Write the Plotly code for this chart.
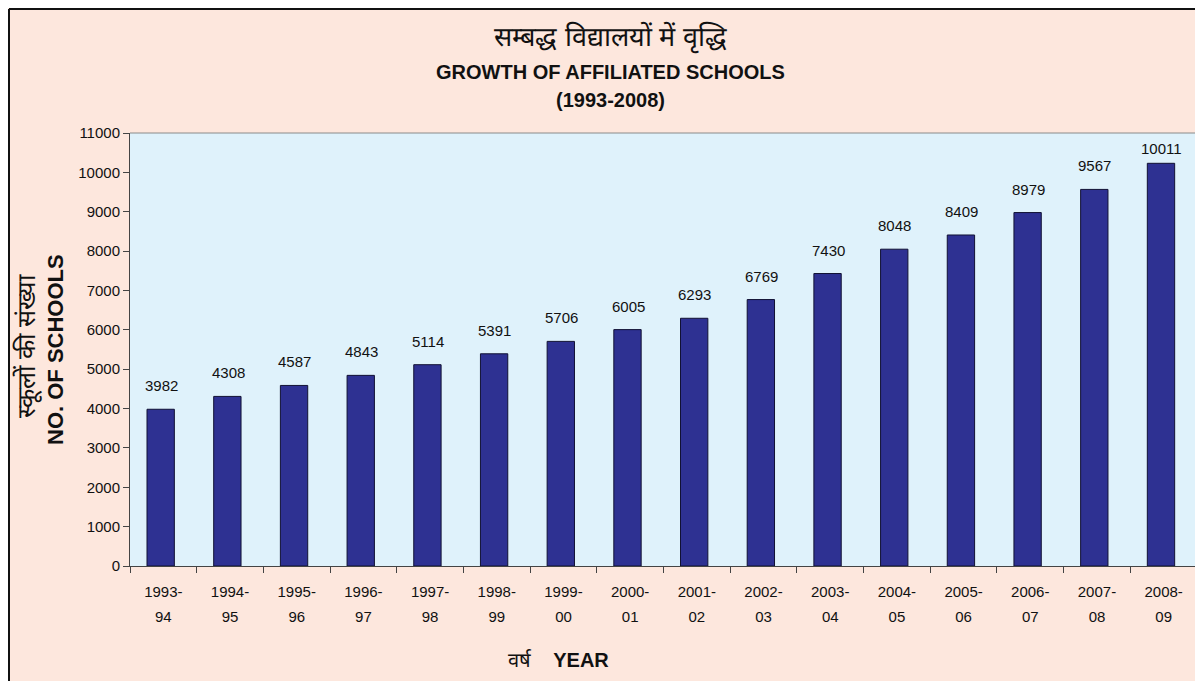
import plotly.graph_objects as go

years = ["1993-94", "1994-95", "1995-96", "1996-97", "1997-98", "1998-99",
         "1999-00", "2000-01", "2001-02", "2002-03", "2003-04", "2004-05",
         "2005-06", "2006-07", "2007-08", "2008-09"]
# bar heights as drawn (the last bar is drawn taller than its label says)
bar_values = [3982, 4308, 4587, 4843, 5114, 5391, 5706, 6005, 6293, 6769,
              7430, 8048, 8409, 8979, 9567, 10230]
label_values = [3982, 4308, 4587, 4843, 5114, 5391, 5706, 6005, 6293, 6769,
                7430, 8048, 8409, 8979, 9567, 10011]

FONT = "Liberation Sans, Arial, sans-serif"
BAR = "#2e3192"

W, H = 1195, 673
L, R, T, B = 122, 6, 125, 115
PW, PH = W - L - R, H - T - B


def px(x):
    return (x - L) / PW


def py(y):
    return (H - B - y) / PH


def two_lines(s):
    a, b = s.split("-")
    return (f'<span style="font-size:15px">{a}-</span><br>'
            f'<span style="font-size:15px">{b}</span>')


fig = go.Figure(go.Bar(
    x=years,
    y=bar_values,
    marker=dict(color=BAR, line=dict(color="#111133", width=1)),
    width=0.41,
    offset=-0.245,
    hovertemplate="%{x}: %{y}<extra></extra>",
))

# value labels sit just above the labelled value
for yr, v in zip(years, label_values):
    fig.add_annotation(x=yr, y=v, text=str(v), showarrow=False,
                       xshift=-2, yanchor="bottom", yshift=13,
                       font=dict(size=15, color="#111111", family=FONT))

fig.update_layout(
    width=W, height=H,
    paper_bgcolor="#fde7dd",
    plot_bgcolor="#dff2fb",
    margin=dict(l=L, r=R, t=T, b=B),
    showlegend=False,
    font=dict(family=FONT, size=15, color="#111111"),
)

fig.update_xaxes(
    type="category",
    tickvals=years, ticktext=[two_lines(y) for y in years],
    showline=True, linecolor="#444444", linewidth=1,
    ticks="outside", tickson="boundaries", ticklen=6, tickcolor="#444444",
    tickfont=dict(size=19), ticklabelstandoff=7, showgrid=False,
)
fig.update_yaxes(
    range=[0, 11000], dtick=1000, tickformat="d",
    showline=True, linecolor="#444444", linewidth=1,
    ticks="outside", ticklen=6, tickcolor="#444444",
    tickfont=dict(size=15), showgrid=False, zeroline=False,
)

# plot area border (top and right)
fig.add_shape(type="line", xref="paper", yref="paper", x0=0, y0=1, x1=1, y1=1,
              line=dict(color="#8a8a8a", width=1))
fig.add_shape(type="line", xref="paper", yref="paper", x0=1, y0=0, x1=1, y1=1,
              line=dict(color="#8a8a8a", width=1))
# outer frame (left and top edges of the chart sheet)
fig.add_shape(type="line", xref="paper", yref="paper",
              x0=px(1), y0=py(1), x1=px(W), y1=py(1),
              line=dict(color="#111111", width=2))
fig.add_shape(type="line", xref="paper", yref="paper",
              x0=px(1), y0=py(1), x1=px(1), y1=py(H),
              line=dict(color="#111111", width=2))

titles = [
    ("सम्बद्ध विद्यालयों में वृद्धि", 29, 27),
    ("<b>GROWTH OF AFFILIATED SCHOOLS</b>", 64, 20),
    ("<b>(1993-2008)</b>", 92, 20),
]
for txt, ypix, size in titles:
    fig.add_annotation(text=txt, xref="paper", yref="paper",
                       x=px(602), y=py(ypix), showarrow=False,
                       font=dict(size=size, family=FONT),
                       xanchor="center", yanchor="middle")

# y axis titles
fig.add_annotation(text="स्कूलों की संख्या", xref="paper", yref="paper",
                   x=px(19), y=py(338), textangle=-90, showarrow=False,
                   font=dict(size=25, family=FONT), xanchor="center", yanchor="middle")
fig.add_annotation(text="<b>NO. OF SCHOOLS</b>", xref="paper", yref="paper",
                   x=px(47), y=py(342), textangle=-90, showarrow=False,
                   font=dict(size=22, family=FONT), xanchor="center", yanchor="middle")

# x axis title
fig.add_annotation(text="वर्ष&nbsp;&nbsp;&nbsp;&nbsp;<b>YEAR</b>", xref="paper", yref="paper",
                   x=px(550), y=py(652), showarrow=False,
                   font=dict(size=20, family=FONT), xanchor="center", yanchor="middle")

fig.write_html("out.html")
